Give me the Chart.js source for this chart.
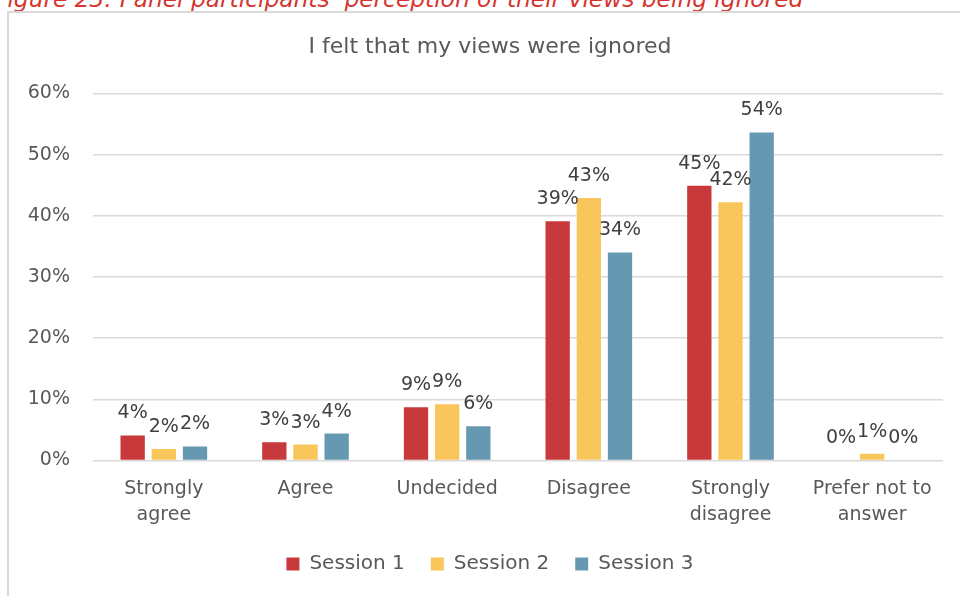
<!DOCTYPE html>
<html>
<head>
<meta charset="utf-8">
<script src="https://cdn.jsdelivr.net/npm/chart.js@4/dist/chart.umd.min.js"></script>
<style>
    html, body { margin: 0; padding: 0; background: #fff; }
    #wrap { position: relative; width: 960px; height: 596px; overflow: hidden; }
    #caption {
        position: absolute; left: -6px; top: -13px; white-space: nowrap;
        font: italic 23.3px "DejaVu Sans", sans-serif; color: #d6342f; line-height: 23px;
    }
    #frame {
        position: absolute; left: 7px; top: 11px; width: 990px; height: 620px;
        border-left: 2px solid #d9d9d9; border-top: 2px solid #d9d9d9;
    }
    #chart { position: absolute; left: 0; top: 0; }
</style>
</head>
<body>
<div id="wrap">
    <div id="caption">Figure 23: Panel participants’ perception of their views being ignored</div>
    <div id="frame"></div>
    <canvas id="chart" width="980" height="596"></canvas>
</div>
<script>
const categories = [['Strongly', 'agree'], 'Agree', 'Undecided', 'Disagree', ['Strongly', 'disagree'], ['Prefer not to', 'answer']];
const session1 = [4.1, 3.0, 8.7, 39.1, 44.9, 0];
const session2 = [1.9, 2.6, 9.2, 42.9, 42.2, 1.1];
const session3 = [2.3, 4.4, 5.6, 34.0, 53.6, 0];
const yTicks = [0, 10, 20, 30, 40, 50, 60];

const fontFamily = '"DejaVu Sans", sans-serif';

// percentage labels above each bar
const barLabels = {
    id: 'barLabels',
    afterDatasetsDraw(chart) {
        const ctx = chart.ctx;
        ctx.save();
        ctx.font = '19px ' + fontFamily;
        ctx.fillStyle = '#404040';
        ctx.textAlign = 'center';
        ctx.textBaseline = 'middle';
        chart.data.datasets.forEach(function (ds, i) {
            chart.getDatasetMeta(i).data.forEach(function (bar, j) {
                ctx.fillText(Math.round(ds.data[j]) + '%', bar.x, bar.y - 22);
            });
        });
        ctx.restore();
    }
};

new Chart(document.getElementById('chart'), {
    type: 'bar',
    data: {
        labels: categories,
        datasets: [
            { label: 'Session 1', data: session1, backgroundColor: '#c8393b' },
            { label: 'Session 2', data: session2, backgroundColor: '#f8c65a' },
            { label: 'Session 3', data: session3, backgroundColor: '#6699b1' }
        ]
    },
    options: {
        responsive: false,
        animation: false,
        layout: { padding: { left: 0, right: 0, top: 0, bottom: 12 } },
        datasets: {
            bar: { barPercentage: 0.78, categoryPercentage: 0.66 }
        },
        scales: {
            x: {
                grid: { display: false },
                border: { display: false },
                ticks: {
                    color: '#595959',
                    font: { family: fontFamily, size: 19, lineHeight: 1.35 },
                    padding: 8,
                    maxRotation: 0,
                    autoSkip: false
                },
                afterFit(scale) { scale.height = 67.5; }
            },
            y: {
                min: 0,
                max: 60,
                afterBuildTicks(scale) { scale.ticks = yTicks.map(v => ({ value: v })); },
                grid: { color: '#d9d9d9', lineWidth: 1.5, drawTicks: false },
                border: { display: false },
                ticks: {
                    color: '#595959',
                    font: { family: fontFamily, size: 19 },
                    padding: 23,
                    callback: v => v + '%'
                },
                afterFit(scale) { scale.width = 93; }
            },
            // empty right-hand margin so title and legend stay centred on the whole frame
            yRight: {
                position: 'right',
                min: 0,
                max: 60,
                grid: { display: false },
                border: { display: false },
                ticks: { display: false },
                afterFit(scale) { scale.width = 37; }
            }
        },
        plugins: {
            title: {
                display: true,
                text: 'I felt that my views were ignored',
                color: '#595959',
                font: { family: fontFamily, size: 22, weight: 'normal' },
                padding: { top: 34, bottom: 33 }
            },
            legend: {
                position: 'bottom',
                labels: {
                    color: '#595959',
                    font: { family: fontFamily, size: 20 },
                    boxWidth: 13,
                    boxHeight: 13,
                    padding: 26
                }
            },
            tooltip: { enabled: false }
        }
    },
    plugins: [barLabels]
});
</script>
</body>
</html>
